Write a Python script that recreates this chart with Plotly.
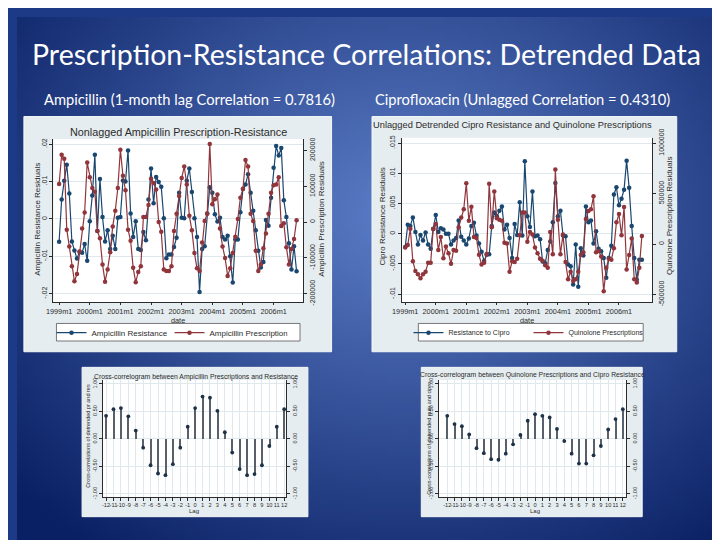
import math, zlib, struct, base64
import plotly.graph_objects as go

# ---------------- data ----------------
date_tickvals = [0, 12, 24, 36, 48, 60, 72, 84]
date_ticklabels = ["1999m1", "2000m1", "2001m1", "2002m1", "2003m1", "2004m1", "2005m1", "2006m1"]

amp_res = [
    -0.0061, 0.0052, 0.0102, 0.0145, 0.0068, -0.0060, -0.0084, -0.0106, -0.0088, -0.0090,
    -0.0067, -0.0112, -0.0006, 0.0063, 0.0172, -0.0032, 0.0107, 0.0005, -0.0060, -0.0030,
    -0.0080, -0.0045, -0.0080, 0.0003, 0.0005, 0.0103, 0.0100, 0.0183, 0.0015, -0.0048,
    -0.0006, -0.0080, -0.0083, -0.0035, -0.0057, 0.0052, 0.0135, 0.0042, 0.0112, 0.0099,
    0.0086, 0.0002, -0.0105, -0.0095, -0.0095, -0.0075, -0.0050, 0.0070, 0.0003, 0.0002,
    0.0102, 0.0135, 0.0072, 0.0002, -0.0048, -0.0195, -0.0080, -0.0073, 0.0015, 0.0085,
    0.0070, 0.0013, -0.0007, 0.0003, -0.0048, -0.0055, -0.0045, -0.0100, -0.0170, -0.0055,
    -0.0055, 0.0018, 0.0080, 0.0092, 0.0120, 0.0070, 0.0022, -0.0030, -0.0085, -0.0130,
    -0.0115, -0.0003, -0.0018, 0.0057, 0.0137, 0.0195, 0.0170, 0.0190, 0.0050, 0.0005,
    -0.0065, -0.0135, -0.0073, -0.0140]

amp_rx = [
    106000, 188000, 177000, -21000, -68000, -123000, -165000, -145000, -82000, -18000,
    27000, 166000, 125000, 95000, 85000, -25000, -45000, -118000, -166000, -132000,
    -84000, -12000, 32000, 95000, 202000, 129000, 89000, -21000, -52000, -127000,
    -168000, -139000, -123000, 14000, 14000, 48000, 121000, 109000, 91000, 0,
    -27000, -132000, -136000, -136000, -123000, -25000, 23000, 73000, 123000, 155000,
    105000, 18000, -23000, -86000, -129000, -136000, -57000, 3000, 23000, 218000,
    50000, 64000, 77000, -18000, -68000, -100000, -150000, -129000, -86000, -41000,
    9000, 68000, 93000, 173000, 155000, 23000, 3000, -80000, -136000, -118000,
    -73000, -32000, 23000, 82000, 103000, 105000, 125000, -11000, -3000, -70000,
    -118000, -75000, -47000, 5000]

cip_res = [
    -0.0022, 0.0015, 0.0013, 0.0027, 0.0003, -0.0018, -0.0002, -0.0011, 0.0002, -0.0018,
    -0.0025, 0.0008, 0.0031, 0.0003, 0.0009, 0.0007, 0.0000, 0.0000, -0.0018, -0.0011,
    -0.0007, 0.0022, -0.0005, -0.0011, -0.0018, -0.0008, 0.0013, 0.0018, -0.0003, -0.0016,
    -0.0030, -0.0045, -0.0035, -0.0034, 0.0013, 0.0035, 0.0029, 0.0038, 0.0045, 0.0007,
    0.0015, -0.0007, -0.0040, 0.0016, -0.0002, 0.0052, -0.0003, 0.0120, 0.0029, 0.0011,
    0.0070, -0.0004, -0.0003, -0.0009, -0.0046, -0.0049, -0.0027, -0.0013, 0.0019, 0.0084,
    0.0029, 0.0038, -0.0003, -0.0004, -0.0051, -0.0054, -0.0084, -0.0018, -0.0088, -0.0024,
    -0.0036, 0.0045, 0.0019, 0.0022, -0.0016, 0.0004, -0.0025, -0.0029, -0.0040, -0.0073,
    -0.0040, -0.0020, 0.0065, 0.0077, 0.0047, 0.0058, 0.0073, 0.0121, 0.0076, 0.0013,
    -0.0040, -0.0076, -0.0043, -0.0043]

quin_rx = [
    -35000, -9000, 152000, -170000, -267000, -300000, -338000, -300000, -274000, -186000,
    -186000, 152000, 200000, -58000, 70000, -140000, -25000, -90000, -196000, -58000,
    -67000, 168000, 264000, 345000, 603000, 232000, 371000, 70000, 61000, -106000,
    -203000, -186000, -99000, 597000, 168000, 522000, 255000, 242000, 232000, 13000,
    6000, -274000, -170000, -177000, -145000, 87000, 313000, 313000, 23000, 119000,
    94000, -35000, -90000, -145000, -165000, -210000, -235000, 119000, -100000, 739000,
    242000, -100000, 94000, -177000, -348000, -274000, -365000, -348000, -274000, -107000,
    -80000, 248000, 329000, 345000, 474000, -80000, -68000, -123000, -468000, -235000,
    -145000, -155000, -42000, 216000, 297000, 87000, 368000, -252000, -107000, 55000,
    -348000, -381000, -235000, 81000]

lags = list(range(-12, 13))
amp_ccf = [0.42, 0.54, 0.56, 0.41, 0.15, -0.16, -0.48, -0.63, -0.66, -0.46, -0.16, 0.22, 0.56,
           0.77, 0.75, 0.51, 0.12, -0.25, -0.55, -0.66, -0.64, -0.48, -0.13, 0.22, 0.54]
cip_ccf = [0.42, 0.27, 0.23, 0.08, -0.17, -0.26, -0.37, -0.38, -0.27, -0.10, 0.07, 0.33, 0.45,
           0.42, 0.39, 0.18, -0.04, -0.27, -0.45, -0.45, -0.30, -0.13, 0.17, 0.36, 0.54]

amp_left_ticks = [-0.02, -0.01, 0, 0.01, 0.02]
amp_left_labels = ["-.02", "-.01", "0", ".01", ".02"]
amp_right_ticks = [-200000, -100000, 0, 100000, 200000]
amp_right_labels = ["-200000", "-100000", "0", "100000", "200000"]
cip_left_ticks = [-0.01, -0.005, 0, 0.005, 0.01, 0.015]
cip_left_labels = ["-.01", "-.005", "0", ".005", ".01", ".015"]
cip_right_ticks = [-500000, 0, 500000, 1000000]
cip_right_labels = ["-500000", "0", "500000", "1000000"]
ccf_ticks = [-1, -0.5, 0, 0.5, 1]
ccf_labels = ["-1.00", "-0.50", "0.00", "0.50", "1.00"]

# ---------------- helpers ----------------
W, H = 720, 540
OFF = 8  # the page places the figure 8px in from the window corner
def X(px): return (px - OFF) / W
def Y(py): return 1 - (py - OFF) / H

FONT = "Liberation Sans, Arial, sans-serif"
SLIDE_FONT = "Lato, Open Sans, sans-serif"
TXT = "#2b2b2b"
NAVY = "#1a476f"
MAROON = "#90353b"
PANEL = "#e6edf0"
GRID = "#dfe8ec"

INNER = (92, 126, 200)
OUTER = (10, 32, 100)

def gradient_uri(w=96, h=72):
    rows = []
    for j in range(h):
        py = OFF + (j + 0.5) * H / h
        row = bytearray([0])
        for i in range(w):
            px = OFF + (i + 0.5) * W / w
            d = math.hypot((px - 400) / 520, (py - 210) / 430)
            t = min(d, 1.0)
            row += bytes(int(round(a + (b - a) * t)) for a, b in zip(INNER, OUTER))
        rows.append(bytes(row))
    raw = b"".join(rows)
    def chunk(tag, data):
        c = struct.pack(">I", len(data)) + tag + data
        return c + struct.pack(">I", zlib.crc32(tag + data) & 0xffffffff)
    png = (b"\x89PNG\r\n\x1a\n" + chunk(b"IHDR", struct.pack(">IIBBBBB", w, h, 8, 2, 0, 0, 0))
           + chunk(b"IDAT", zlib.compress(raw, 9)) + chunk(b"IEND", b""))
    return "data:image/png;base64," + base64.b64encode(png).decode()

def rect(x0, y0, x1, y1, fill, line="rgba(0,0,0,0)", lw=0, layer="below"):
    return dict(type="rect", xref="paper", yref="paper", x0=X(x0), x1=X(x1), y0=Y(y1), y1=Y(y0),
                fillcolor=fill, line=dict(color=line, width=lw), layer=layer)

def ann(text, x, y, size, angle=0, color=TXT, family=FONT, xanchor="center"):
    return dict(text=text, x=X(x), y=Y(y), xref="paper", yref="paper", showarrow=False,
                textangle=angle, font=dict(size=size, color=color, family=family),
                xanchor=xanchor, yanchor="middle", borderpad=0)

def xax(dom, rng, tv, tt, anchor, size, grid=False):
    return dict(domain=[X(dom[0]), X(dom[1])], range=rng, anchor=anchor, tickmode="array",
                tickvals=tv, ticktext=tt, tickangle=0, tickfont=dict(size=size, family=FONT, color=TXT),
                ticks="outside", ticklen=2.5, tickcolor=TXT, showline=True, linecolor=TXT, linewidth=1,
                showgrid=grid, gridcolor=GRID, gridwidth=1, zeroline=False, fixedrange=True)

def yax(dom, rng, tv, tt, anchor, size, side="left", overlay=None, grid=True):
    d = dict(range=rng, anchor=anchor, side=side, tickmode="array", tickvals=tv, ticktext=tt,
             tickangle=-90, tickfont=dict(size=size, family=FONT, color=TXT), ticks="outside",
             ticklen=3, tickcolor=TXT, showline=True, linecolor=TXT, linewidth=1,
             showgrid=grid, gridcolor=GRID, gridwidth=1, zeroline=False, fixedrange=True)
    if overlay:
        d["overlaying"] = overlay
    else:
        d["domain"] = [Y(dom[1]), Y(dom[0])]
    return d

fig = go.Figure()

# chart 1
fig.add_trace(go.Scatter(x=list(range(len(amp_res))), y=amp_res, name="Ampicillin Resistance",
                         xaxis="x", yaxis="y", legend="legend",
                         line=dict(color=NAVY, width=1.2), marker=dict(color=NAVY, size=4.5), mode="lines+markers"))
fig.add_trace(go.Scatter(x=list(range(len(amp_rx))), y=amp_rx, name="Ampicillin Prescriptions",
                         xaxis="x", yaxis="y2", legend="legend",
                         line=dict(color=MAROON, width=1.2), marker=dict(color=MAROON, size=4.5), mode="lines+markers"))
# chart 2
fig.add_trace(go.Scatter(x=list(range(len(cip_res))), y=cip_res, name="Resistance to Cipro",
                         xaxis="x2", yaxis="y3", legend="legend2",
                         line=dict(color=NAVY, width=1.2), marker=dict(color=NAVY, size=4.5), mode="lines+markers"))
fig.add_trace(go.Scatter(x=list(range(len(quin_rx))), y=quin_rx, name="Quinolone Prescriptions",
                         xaxis="x2", yaxis="y4", legend="legend2",
                         line=dict(color=MAROON, width=1.2), marker=dict(color=MAROON, size=4.5), mode="lines+markers"))
# chart 3 / 4 correlograms
for xa, ya, yb, vals in (("x3", "y5", "y6", amp_ccf), ("x4", "y7", "y8", cip_ccf)):
    fig.add_trace(go.Bar(x=lags, y=vals, xaxis=xa, yaxis=ya, width=0.15, showlegend=False,
                         marker=dict(color="#56616b", line=dict(width=0))))
    fig.add_trace(go.Scatter(x=lags, y=vals, xaxis=xa, yaxis=yb, mode="markers", showlegend=False,
                             marker=dict(color="#1d3147", size=3.8)))

ccf_rng = [-1.06, 1.07]
fig.update_layout(
    width=W, height=H, autosize=False, margin=dict(l=0, r=0, t=0, b=0),
    paper_bgcolor="#1c3a86", plot_bgcolor="rgba(0,0,0,0)", bargap=0,
    xaxis=xax((45, 298), [-2.2, 95.5], date_tickvals, date_ticklabels, "y", 7.3),
    yaxis=yax((133, 300), [-0.0222, 0.0214], amp_left_ticks, amp_left_labels, "x", 7),
    yaxis2=yax(None, [-222700, 231800], amp_right_ticks, amp_right_labels, "x", 7, side="right", overlay="y", grid=False),
    xaxis2=xax((398, 652), [-1.43, 97.0], date_tickvals, date_ticklabels, "y3", 7.3),
    yaxis3=yax((131.7, 300), [-0.0113, 0.0159], cip_left_ticks, cip_left_labels, "x2", 7),
    yaxis4=yax(None, [-573500, 1054000], cip_right_ticks, cip_right_labels, "x2", 7, side="right", overlay="y3", grid=False),
    xaxis3=xax((95, 281), [-12.44, 12.27], lags, [str(v) for v in lags], "y5", 5.7, grid=True),
    yaxis5=yax((380, 500), ccf_rng, ccf_ticks, ccf_labels, "x3", 5.5),
    yaxis6=yax(None, ccf_rng, ccf_ticks, ccf_labels, "x3", 5.5, side="right", overlay="y5", grid=False),
    xaxis4=xax((435.7, 625.7), [-13.16, 12.45], lags, [str(v) for v in lags], "y7", 5.7, grid=True),
    yaxis7=yax((380, 500), ccf_rng, ccf_ticks, ccf_labels, "x4", 5.5),
    yaxis8=yax(None, ccf_rng, ccf_ticks, ccf_labels, "x4", 5.5, side="right", overlay="y7", grid=False),
    legend=dict(orientation="h", x=X(43), y=Y(331.5), xanchor="left", yanchor="middle",
                bgcolor="rgba(0,0,0,0)", borderwidth=0, entrywidth=73, itemwidth=30,
                font=dict(size=8, family=FONT, color=TXT)),
    legend2=dict(orientation="h", x=X(405), y=Y(331.5), xanchor="left", yanchor="middle",
                 bgcolor="rgba(0,0,0,0)", borderwidth=0, entrywidth=75, itemwidth=30,
                 font=dict(size=7, family=FONT, color=TXT)),
    images=[dict(source=gradient_uri(), xref="paper", yref="paper", x=0, y=1, sizex=1, sizey=1,
                 sizing="stretch", xanchor="left", yanchor="top", layer="below")],
    shapes=[
        rect(15, 110, 327, 351, PANEL, "#f4f7f8", 1),
        rect(368, 110, 677, 351, PANEL, "#f4f7f8", 1),
        rect(74, 367, 303, 520, PANEL, "#f4f7f8", 1),
        rect(418, 367, 642, 520, PANEL, "#f4f7f8", 1),
        rect(45, 133, 298, 300, "white"),
        rect(398, 131.7, 652, 300, "white"),
        rect(95, 380, 281, 500, "white"),
        rect(435.7, 380, 625.7, 500, "white"),
        rect(48, 322, 295, 340, "white", "#555555", 0.8),
        rect(415, 322, 643, 340, "white", "#555555", 0.8),
    ],
    annotations=[
        ann("Prescription-Resistance Correlations: Detrended Data", 362, 46, 28.5, color="white", family=SLIDE_FONT),
        ann("Ampicillin (1-month lag Correlation = 0.7816)", 183, 92, 14.7, color="white", family=SLIDE_FONT),
        ann("Ciprofloxacin (Unlagged Correlation = 0.4310)", 520.5, 92, 14.7, color="white", family=SLIDE_FONT),
        ann("Nonlagged Ampicillin Prescription-Resistance", 172, 126, 10.8),
        ann("Ampicillin Resistance Residuals", 28, 215, 8, angle=-90),
        ann("Ampicillin Prescription Residuals", 316, 215, 8, angle=-90),
        ann("date", 171, 318.5, 7.3),
        ann("Unlagged Detrended Cipro Resistance and Quinolone Prescriptions", 510, 119, 9.3),
        ann("Cipro Resistance Residuals", 378.5, 212, 8, angle=-90),
        ann("Quinolone Prescription Residuals", 669, 212, 8, angle=-90),
        ann("date", 525, 318.5, 7.3),
        ann("Cross-correlogram between Ampicillin Prescriptions and Resistance", 189.5, 376.5, 6.8),
        ann("Cross-correlations of detrended pr and res", 80, 437, 5.5, angle=-90),
        ann("Lag", 187.5, 514, 6),
        ann("Cross-correlogram between Quinolone Prescriptions and Cipro Resistance", 531, 375, 6.8),
        ann("Cross-correlations of detrended quin and cipro", 425, 440, 5.5, angle=-90),
        ann("Lag", 533.5, 514, 6),
    ],
)

fig.write_html("out.html")
